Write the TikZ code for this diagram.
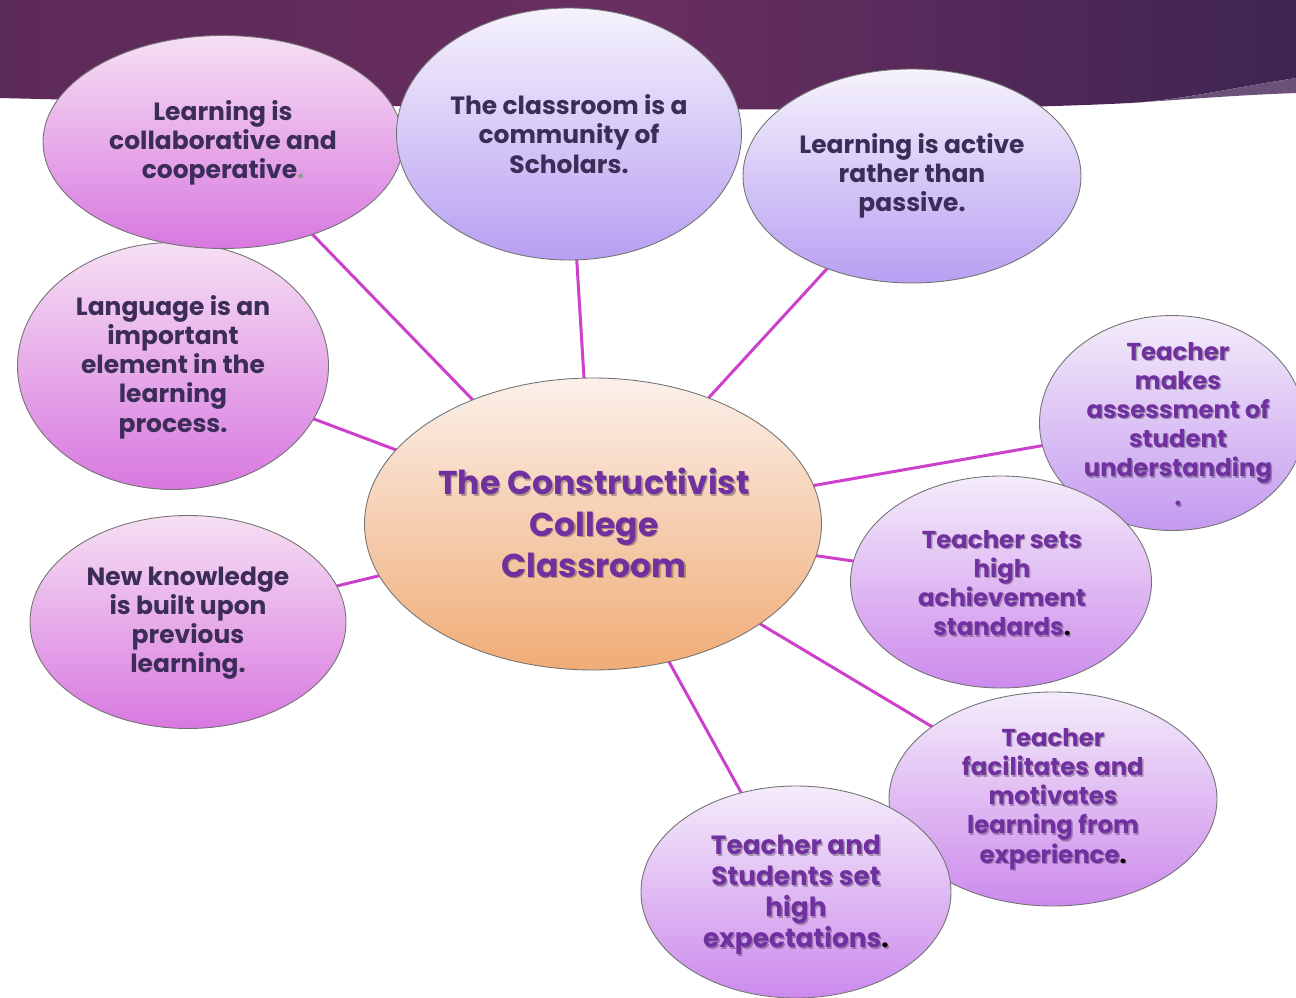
\documentclass[tikz,border=0pt]{standalone}
\usepackage{fontspec}
\setmainfont{Poppins}
\usetikzlibrary{shapes.geometric,backgrounds}
\definecolor{bandL}{HTML}{5C2A58}
\definecolor{bandM}{HTML}{682E60}
\definecolor{bandR}{HTML}{3E2452}
\definecolor{swoosh}{HTML}{6B5078}
\definecolor{pinkT}{HTML}{F6DFF3}
\definecolor{pinkB}{HTML}{D878E0}
\definecolor{lavT}{HTML}{F6F3FC}
\definecolor{lavB}{HTML}{B79FF2}
\definecolor{purT}{HTML}{F4ECFA}
\definecolor{purB}{HTML}{CC8AEC}
\definecolor{purB2}{HTML}{C49AF0}
\definecolor{peachT}{HTML}{FBF0EA}
\definecolor{peachB}{HTML}{F0AC76}
\definecolor{linkc}{HTML}{CC40CC}
\definecolor{darktxt}{HTML}{3C2C58}
\definecolor{purtxt}{HTML}{7030A0}
\newcommand{\bdot}{{\color{black}.}}
\newcommand{\bubnode}[6]{\node[#6, minimum width={#4*0.02cm}, minimum height={#5*0.02cm}] (#1) at (#2,#3) {};}
\newcommand{\shtext}[5]{%
  \node[#4, text=black, text opacity=0.28, execute at begin node={\def\bdot{.}}] (#1s) at (#2+1.4,#3+1.4) {#5};
  \node[#4] (#1) at (#2,#3) {#5};}
\tikzset{
  bub/.style={ellipse, draw=black!55, line width=0.5pt, inner sep=0pt},
  pinkbub/.style={bub, top color=pinkT, bottom color=pinkB},
  lavbub/.style={bub, top color=lavT, bottom color=lavB},
  purbub/.style={bub, top color=purT, bottom color=purB},
  purbubb/.style={bub, top color=purT, bottom color=purB2},
  peachbub/.style={bub, top color=peachT, bottom color=peachB},
  link/.style={draw=linkc, line width=1.7pt},
  dtxt/.style={text=darktxt, align=center, inner sep=0pt, font=\bfseries\fontsize{14.2}{16.6}\selectfont},
  ptxt/.style={text=purtxt, align=center, inner sep=0pt, font=\bfseries\fontsize{13.9}{16.6}\selectfont},
  ptxtl/.style={ptxt, font=\bfseries\fontsize{15}{17.6}\selectfont},
  ttxt/.style={text=purtxt, align=center, inner sep=0pt, font=\bfseries\fontsize{18.8}{23.5}\selectfont},
}
\begin{document}
\begin{tikzpicture}[x=0.02cm, y=-0.02cm]
\useasboundingbox (0,0) rectangle (1296,998);
% bubbles
\bubnode{n4}{173}{366}{311}{247}{pinkbub}
\bubnode{n5}{188}{622}{316}{213}{pinkbub}
\bubnode{n1}{223}{142}{360}{213}{pinkbub}
\bubnode{n2}{569}{134}{345}{252}{lavbub}
\bubnode{n3}{912}{176}{338}{214}{lavbub}
\bubnode{c}{593}{524}{457}{292}{peachbub}
\bubnode{n7}{1172}{423}{265}{215}{purbubb}
\bubnode{n8}{1001}{582}{301}{212}{purbub}
\bubnode{n9}{1053}{799}{328}{214}{purbub}
\bubnode{n10}{796}{892}{310}{212}{purbub}
% background: banner and connectors
\begin{scope}[on background layer]
  \shade[left color=bandL, right color=bandR, middle color=bandM]
    (0,0) -- (1296,0) -- (1296,78) .. controls (1220,90) and (1180,100) .. (1130,103)
    .. controls (900,115) and (400,108) .. (0,98) -- cycle;
  \fill[swoosh] (1296,78) .. controls (1220,90) and (1180,100) .. (1130,103)
    .. controls (1190,99) and (1240,95) .. (1296,93) -- cycle;
  \foreach \t in {n1,n2,n3,n4,n5,n7,n8,n9,n10}
    \draw[link] (c.center) -- (\t.center);
\end{scope}
% texts
\node[dtxt] (t1) at (223,143) {Learning is\\collaborative and\\cooperative{\color{black!40}.}};
\node[dtxt] (t2) at (569,134) {The classroom is a\\community of\\Scholars.};
\node[dtxt] (t3) at (912,176) {Learning is active\\rather than\\passive.};
\node[dtxt] (t4) at (173,367) {Language is an\\important\\element in the\\learning\\process.};
\node[dtxt] (t5) at (188,623) {New knowledge\\is built upon\\previous\\learning.};
\shtext{tc}{594}{523}{ttxt}{The Constructivist\\College\\Classroom}
\shtext{t7}{1178}{424}{ptxt}{Teacher\\makes\\assessment of\\student\\understanding\\.}
\shtext{t8}{1002}{583}{ptxt}{Teacher sets\\high\\achievement\\standards\bdot}
\shtext{t9}{1053}{799}{ptxt}{Teacher\\facilitates and\\motivates\\learning from\\experience\bdot}
\shtext{t10}{796}{895}{ptxtl}{Teacher and\\Students set\\high\\expectations\bdot}
\end{tikzpicture}
\end{document}
